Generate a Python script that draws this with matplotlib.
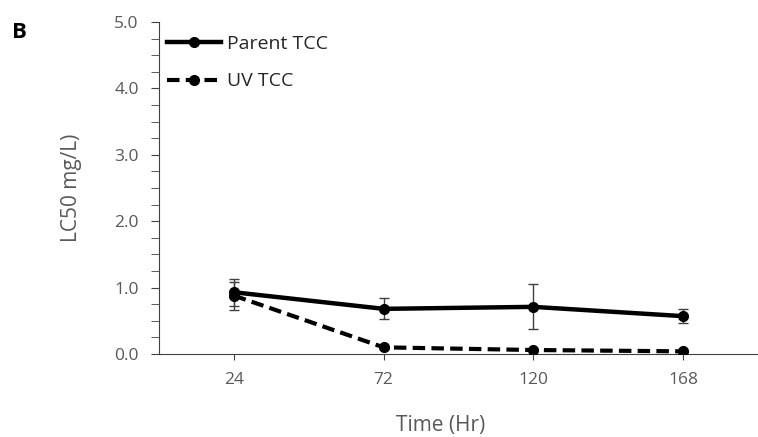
import numpy as np
import matplotlib
matplotlib.use("Agg")
import matplotlib.pyplot as plt
from matplotlib.ticker import MultipleLocator, FormatStrFormatter

plt.rcParams['font.family'] = ['Open Sans', 'DejaVu Sans']

times = ["24", "72", "120", "168"]
parent = [0.93, 0.68, 0.71, 0.57]
parent_err = [0.20, 0.16, 0.34, 0.11]
uv = [0.88, 0.10, 0.06, 0.04]
uv_err = [0.21, 0.02, 0.02, 0.02]

grey = "#595959"
fig = plt.figure(figsize=(7.58, 4.37), dpi=100)
ax = fig.add_axes([159/758, 83/437, 599/758, 332/437])

x = np.arange(len(times))
ax.errorbar(x, parent, yerr=parent_err, color="black", lw=3.2, marker="o", ms=7,
            ecolor="#404040", elinewidth=1, capsize=3.5, capthick=1, label="Parent TCC", zorder=3)
ax.errorbar(x, uv, yerr=uv_err, color="black", lw=3, ls=(0, (3, 1.5)), marker="o", ms=7,
            ecolor="#404040", elinewidth=1, capsize=3.5, capthick=1, label="UV TCC", zorder=3)

ax.set_xlim(-0.5, 3.5)
ax.set_ylim(0, 5)
ax.set_xticks(x)
ax.set_xticklabels(times)
ax.yaxis.set_major_locator(MultipleLocator(1))
ax.yaxis.set_minor_locator(MultipleLocator(0.25))
ax.yaxis.set_major_formatter(FormatStrFormatter("%.1f"))
for s in ["top", "right"]:
    ax.spines[s].set_visible(False)
for s in ["left", "bottom"]:
    ax.spines[s].set_color("#404040")
ax.tick_params(axis="both", which="both", direction="out", colors="#404040",
               labelcolor=grey, labelsize=12.5)
ax.tick_params(axis="y", which="both", length=5.5, pad=9)
ax.tick_params(axis="x", length=4, pad=9)

ax.set_xlabel("Time (Hr)", color=grey, fontsize=15)
ax.set_ylabel("LC50 mg/L)", color=grey, fontsize=15)
ax.xaxis.set_label_coords((441 - 159) / 599, (354 - 425) / 332)
ax.yaxis.set_label_coords((71 - 159) / 599, 0.5)
ax.xaxis.label.set_va("center")
ax.yaxis.label.set_va("center")

handles, labels = ax.get_legend_handles_labels()
handles = [h[0] for h in handles]
ax.legend(handles, labels, loc="upper left", bbox_to_anchor=(8 / 599, 1 - 13 / 332),
          frameon=False, borderaxespad=0, borderpad=0,
          fontsize=14, handlelength=2.8, handletextpad=0.3, labelspacing=1.0,
          labelcolor="#262626")

fig.text(12/758, 1 - 38/437, "B", fontsize=16, fontweight="bold", color="black")

fig.savefig("out.png", dpi=100)
